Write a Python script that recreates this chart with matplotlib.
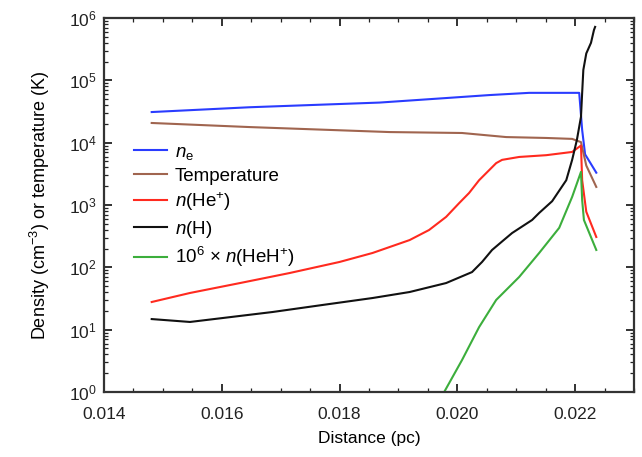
import matplotlib
matplotlib.use("Agg")
import matplotlib.pyplot as plt
from matplotlib.ticker import MultipleLocator, LogLocator, LogFormatterMathtext, NullFormatter

plt.rcParams['font.family'] = ['Liberation Sans', 'DejaVu Sans']
plt.rcParams['mathtext.fontset'] = 'custom'
plt.rcParams['mathtext.rm'] = 'Liberation Sans'
plt.rcParams['mathtext.it'] = 'Liberation Sans:italic'
plt.rcParams['mathtext.bf'] = 'Liberation Sans:bold'
plt.rcParams['mathtext.default'] = 'regular'

# Data (distance in pc)
ne_x = [0.01481, 0.01647, 0.01868, 0.01981, 0.02054, 0.02122, 0.02207, 0.02212, 0.02217, 0.02236]
ne_y = [3.1e4, 3.7e4, 4.4e4, 5.2e4, 5.8e4, 6.3e4, 6.3e4, 1.6e4, 6.5e3, 3.3e3]

temp_x = [0.01481, 0.01647, 0.01885, 0.02008, 0.02083, 0.02151, 0.02195, 0.02210, 0.02219, 0.02236]
temp_y = [2.07e4, 1.78e4, 1.48e4, 1.43e4, 1.23e4, 1.19e4, 1.15e4, 1.02e4, 4.3e3, 1.95e3]

hep_x = [0.01481, 0.01546, 0.01631, 0.01715, 0.01800, 0.01856, 0.01919, 0.01952, 0.01981, 0.02003,
         0.02020, 0.02037, 0.02066, 0.02076, 0.02105, 0.02151, 0.02195, 0.02210, 0.02212, 0.02219, 0.02236]
hep_y = [27.8, 38.8, 56, 81, 122, 170, 274, 397, 645, 1.07e3,
         1.56e3, 2.5e3, 4.7e3, 5.3e3, 5.9e3, 6.3e3, 7.1e3, 9.0e3, 2.5e3, 780, 307]

h_x = [0.01481, 0.01546, 0.01602, 0.01686, 0.01771, 0.01856, 0.01919, 0.01981, 0.02025, 0.02042,
       0.02059, 0.02076, 0.02093, 0.02127, 0.02139, 0.02161, 0.02185, 0.02195, 0.02203, 0.02210,
       0.02212, 0.02214, 0.02219, 0.02227, 0.02232, 0.02234]
h_y = [14.8, 13.3, 15.4, 19.2, 24.9, 32.2, 40.2, 56, 84, 122,
       190, 260, 355, 575, 746, 1.15e3, 2.5e3, 5.3e3, 1.1e4, 2.6e4,
       6.3e4, 1.47e5, 2.7e5, 4.0e5, 6.4e5, 7.2e5]

heh_x = [0.01975, 0.02008, 0.02037, 0.02066, 0.02105, 0.02139, 0.02173, 0.02195, 0.02210,
         0.02212, 0.02215, 0.02236]
heh_y = [0.9, 3.26, 11, 30, 70, 170, 430, 1.35e3, 3.4e3,
         1.2e3, 575, 190]

labels = [r'$\mathit{n}_\mathrm{e}$', 'Temperature', r'$\mathit{n}$(He$^{+}$)',
          r'$\mathit{n}$(H)', r'10$^{6}$ × $\mathit{n}$(HeH$^{+}$)']
colors = ['#2a3cff', '#a0654f', '#ff2a1f', '#111111', '#3cae3c']

fig = plt.figure(figsize=(6.42, 4.57), dpi=100)
ax = fig.add_axes([0.162, 0.1422, 0.8255, 0.8184])

series = [(ne_x, ne_y), (temp_x, temp_y), (hep_x, hep_y), (h_x, h_y), (heh_x, heh_y)]
for (xs, ys), lab, c in zip(series, labels, colors):
    ax.plot(xs, ys, color=c, lw=1.5, label=lab)

ax.set_yscale('log')
ax.set_xlim(0.014, 0.023)
ax.set_ylim(1, 1e6)
ax.set_xticks([0.014, 0.016, 0.018, 0.020, 0.022])
ax.set_xticklabels(['0.014', '0.016', '0.018', '0.020', '0.022'])
ax.xaxis.set_minor_locator(MultipleLocator(0.0005))
ax.yaxis.set_major_locator(LogLocator(base=10, numticks=10))
ax.yaxis.set_minor_locator(LogLocator(base=10, subs=range(2, 10), numticks=20))
ax.yaxis.set_minor_formatter(NullFormatter())
ax.yaxis.set_major_formatter(LogFormatterMathtext())

ax.tick_params(which='both', direction='in', top=True, right=True, labelsize=12.5, colors='#222222')
ax.tick_params(axis='x', which='major', pad=11)
ax.tick_params(axis='y', which='major', pad=5)
ax.tick_params(which='major', length=6, width=1.3)
ax.tick_params(which='minor', length=3, width=0.9)
for s in ax.spines.values():
    s.set_linewidth(1.6)
    s.set_color('#333333')

ax.set_xlabel('Distance (pc)', fontsize=12.5, labelpad=6)
ax.set_ylabel(r'Density (cm$^{-3}$) or temperature (K)', fontsize=13, labelpad=12)

leg = ax.legend(loc='upper left', bbox_to_anchor=(0.042, 0.684), frameon=False, fontsize=13.5,
                handlelength=1.75, handletextpad=0.45, labelspacing=0.3, borderaxespad=0)

fig.savefig('out.png', dpi=100)
